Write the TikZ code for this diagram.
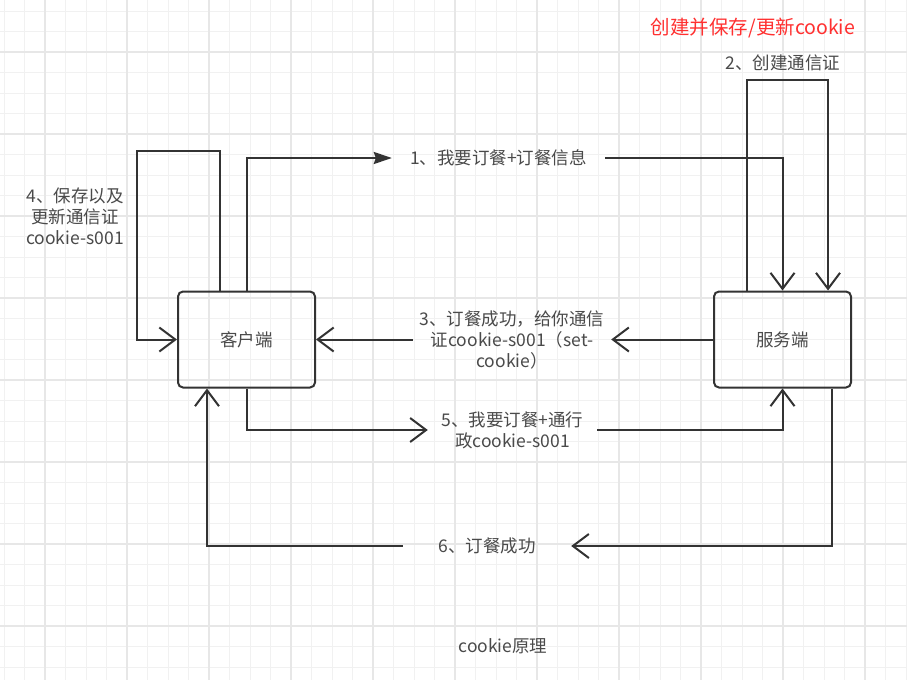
\documentclass[tikz,border=0pt]{standalone}
\usepackage{fontspec}
\setmainfont{Noto Sans CJK SC}
\usetikzlibrary{arrows.meta}
\definecolor{inkgray}{HTML}{333333}
\definecolor{txtgray}{HTML}{4A4A4A}
\definecolor{titlered}{HTML}{FF3030}
\definecolor{gridminor}{HTML}{F1F1F1}
\definecolor{gridmajor}{HTML}{E7E7E7}
\begin{document}
\begin{tikzpicture}[x=1pt, y=-1pt,
      every node/.style={text=txtgray, align=center, font=\fontsize{17.5}{21}\selectfont},
      box/.style={draw=inkgray, line width=2pt, rounded corners=5pt,
        minimum width=137pt, minimum height=96pt},
      flow/.style={draw=inkgray, line width=2pt, -{Straight Barb[length=16pt,width=24pt]}},
      flowfill/.style={draw=inkgray, line width=2pt, -{Stealth[length=18pt,width=12pt,inset=2pt]}},
      gap/.style={inner sep=0pt, minimum height=20pt}]
  \useasboundingbox (0,0) rectangle (907,680);
  \fill[white] (0,0) rectangle (907,680);
  \draw[gridminor, line width=1pt, shift={(4,11)}] (-4,-11) grid[step=20.5pt] (903,669);
  \draw[gridmajor, line width=1.2pt, shift={(45,52)}] (-45,-52) grid[step=82pt] (862,628);

  \node[box] (client) at (246.5,339.5) {客户端};
  \node[box] (server) at (782.5,339.5) {服务端};

  \node[text=titlered, font=\fontsize{19.5}{23}\selectfont] (title) at (753,28) {创建并保存/更新cookie};
  \coordinate (loop2) at (783,80);
  \node (lbl2) at (783,63) {2、创建通信证};
  \coordinate (loop4) at (137,151);
  \node (lbl4) at (75,216) {4、保存以及\\更新通信证\\cookie-s001};

  \node[gap, minimum width=213pt] (lbl1) at (498.5,158) {1、我要订餐+订餐信息};
  \node[gap, minimum width=198pt] (lbl3) at (512,339.5) {3、订餐成功，给你通信\\证cookie-s001（set-\\cookie）};
  \node[gap, minimum width=169pt] (lbl5) at (512.5,430) {5、我要订餐+通行\\政cookie-s001};
  \node[gap, minimum width=168pt] (lbl6) at (487,546) {6、订餐成功};

  \node (caption) at (503,646) {cookie原理};

  \draw[flowfill] (client.north) |- (lbl1.west);
  \draw[flow] (lbl1.east) -| (server.north);
  \draw[flow] ([xshift=-35.5pt]server.north) |- (loop2) -| ([xshift=45.5pt]server.north);
  \draw[flow] (server.west) -- (lbl3.east);
  \draw[flow] (lbl3.west) -- (client.east);
  \draw[flow] ([xshift=-26.5pt]client.north) |- (loop4) |- (client.west);
  \draw[flow] (client.south) |- (lbl5.west);
  \draw[flow] (lbl5.east) -| (server.south);
  \draw[flow] ([xshift=49.5pt]server.south) |- (lbl6.east);
  \draw[flow] (lbl6.west) -| ([xshift=-39.5pt]client.south);
\end{tikzpicture}
\end{document}
